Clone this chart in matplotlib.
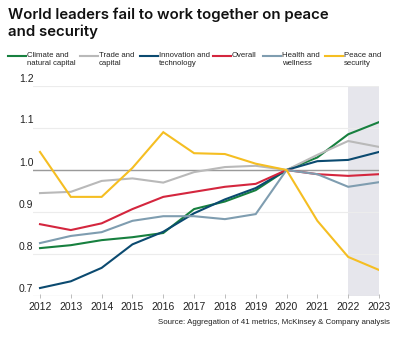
import matplotlib
matplotlib.use("Agg")
import matplotlib.pyplot as plt
import matplotlib.transforms as mtransforms
from matplotlib.lines import Line2D

plt.rcParams["font.family"] = ["Liberation Sans", "DejaVu Sans"]

# --- data (index, 2020 = 1.0) ---
years = list(range(2012, 2024))
climate = [0.814, 0.821, 0.833, 0.840, 0.850, 0.907, 0.925, 0.952, 1.0, 1.030, 1.085, 1.114]
trade = [0.945, 0.948, 0.974, 0.980, 0.970, 0.995, 1.007, 1.010, 1.0, 1.036, 1.069, 1.055]
innovation = [0.719, 0.735, 0.767, 0.823, 0.853, 0.897, 0.930, 0.957, 1.0, 1.021, 1.024, 1.043]
overall = [0.871, 0.857, 0.873, 0.907, 0.936, 0.948, 0.960, 0.967, 1.0, 0.990, 0.986, 0.990]
health = [0.826, 0.843, 0.852, 0.879, 0.890, 0.890, 0.883, 0.895, 1.0, 0.990, 0.960, 0.971]
peace = [1.043, 0.936, 0.936, 1.005, 1.090, 1.040, 1.038, 1.015, 1.0, 0.879, 0.793, 0.762]

series = [
    ("Climate and\nnatural capital", climate, "#17803f"),
    ("Trade and\ncapital", trade, "#b9b9b9"),
    ("Innovation and\ntechnology", innovation, "#0b4a70"),
    ("Overall", overall, "#d4263e"),
    ("Health and\nwellness", health, "#7f9db0"),
    ("Peace and\nsecurity", peace, "#f5be22"),
]
yticks = [0.7, 0.8, 0.9, 1.0, 1.1, 1.2]

fig = plt.figure(figsize=(4.0, 3.4), dpi=100)
ax = fig.add_axes([33 / 400, 44 / 340, 346 / 400, 210 / 340])
ax.set_xlim(2012 - 7 / 30.8, 2023)
ax.set_ylim(0.7, 1.2)

# projection band
ax.axvspan(2022, 2023, color="#e6e6ec", lw=0, zorder=0)

for y in yticks:
    ax.axhline(y, color="#ececec", lw=0.8, zorder=1)
ax.axhline(1.0, color="#9a9a9a", lw=1.0, zorder=2)
ax.axhline(0.7, color="#d6d6d6", lw=0.8, zorder=2)

draw_order = [1, 4, 2, 0, 3, 5]
for i in draw_order:
    _, vals, col = series[i]
    ax.plot(years, vals, color=col, lw=1.5, zorder=3 + i, solid_joinstyle="miter")

for s in ax.spines.values():
    s.set_visible(False)
ax.set_yticks([])
ax.set_xticks(years)
ax.set_xticklabels([str(y) for y in years], fontsize=7.5, color="#222222")
ax.tick_params(axis="x", length=3, width=0.7, color="#bbbbbb", pad=3, direction="inout")

# y labels sit above the gridlines, left aligned
lab_tr = mtransforms.offset_copy(ax.get_yaxis_transform(), fig=fig, x=-14, y=2.5, units="dots")
for y in yticks:
    ax.text(0, y, f"{y:.1f}", transform=lab_tr, ha="left", va="bottom",
            fontsize=7.5, color="#222222")

# title
fig.text(8 / 400, 1 - 8 / 340,
         "World leaders fail to work together on peace\nand security",
         ha="left", va="top", fontsize=10.8, weight="semibold", color="#111111",
         linespacing=1.15, family=["Inter", "DejaVu Sans"])

# legend
hx = [8, 80, 140, 213, 263, 325]
ly = 1 - 56 / 340
for (lbl, _, col), x0 in zip(series, hx):
    fig.add_artist(Line2D([x0 / 400, (x0 + 18) / 400], [ly, ly], color=col, lw=1.5,
                          transform=fig.transFigure))
    fig.text((x0 + 19) / 400, ly + 4.2 / 340, lbl, ha="left", va="top",
             fontsize=5.6, color="#222222", linespacing=1.15)

fig.text(390 / 400, 1 - 323 / 340,
         "Source: Aggregation of 41 metrics, McKinsey & Company analysis",
         ha="right", va="center", fontsize=5.7, color="#222222")

fig.savefig("out.png", dpi=100)
